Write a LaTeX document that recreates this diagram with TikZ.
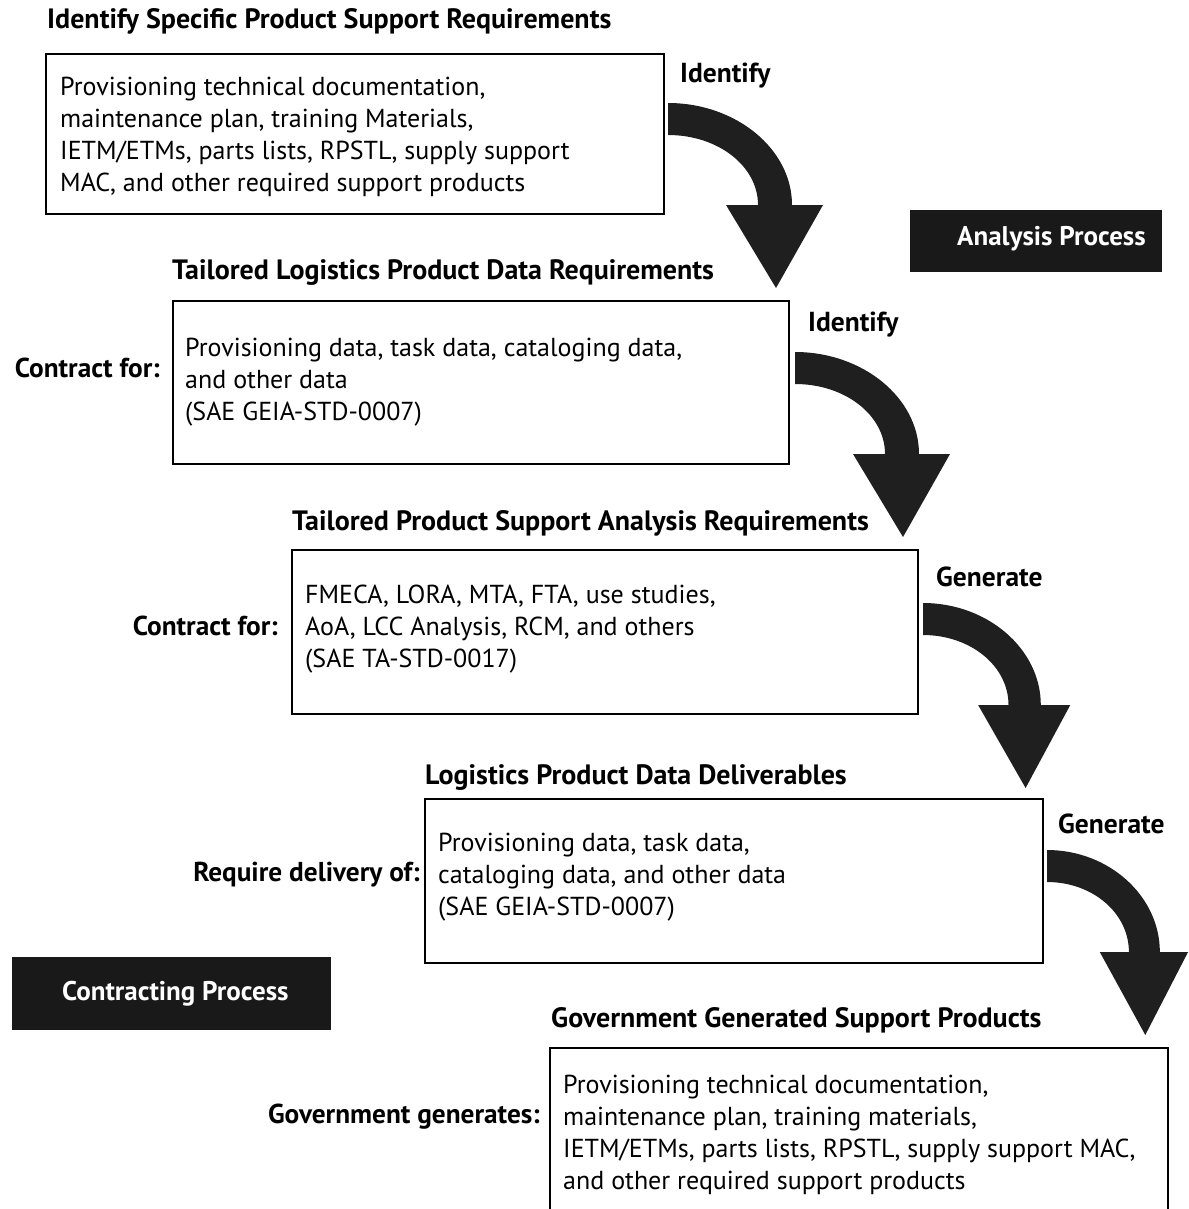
\documentclass[tikz,border=0pt]{standalone}
\usepackage{fontspec}
\setmainfont{PT Sans}
\begin{document}
\begin{tikzpicture}[x=1pt,y=-1pt,
  panel/.style={draw, line width=1.6pt, anchor=north west, inner sep=0pt},
  body/.style={anchor=west, align=left, inner sep=0pt, font=\fontsize{26}{32}\selectfont},
  heading/.style={anchor=west, inner sep=0pt, font=\fontsize{28}{32}\selectfont\bfseries},
  sidelabel/.style={anchor=east, inner sep=0pt, font=\fontsize{27.3}{32}\selectfont\bfseries},
  tagbox/.style={fill=black!90, draw=none, anchor=north west, inner sep=0pt},
  tagtext/.style={anchor=west, inner sep=0pt, text=white, font=\fontsize{27}{32}\selectfont\bfseries},
  pics/bend arrow/.style={code={
    \fill[black!88] (0,0) .. controls (68,0) and (124,46) .. (124,102)
      -- (155,102) -- (108,185) -- (58,102) -- (90,102)
      .. controls (90,63) and (50,32) .. (0,32) -- cycle;}}
]
\clip (0,0) rectangle (1188,1209);

% step 1
\node[heading] (h1) at (47,21) {Identify Specific Product Support Requirements};
\node[panel, minimum width=618pt, minimum height=160pt] (b1) at (45,53) {};
\node[body] (t1) at (60,137) {Provisioning technical documentation,\\maintenance plan, training Materials,\\IETM/ETMs, parts lists, RPSTL, supply support\\MAC, and other required support products};
\node[heading, font=\fontsize{27.5}{32}\selectfont\bfseries] (l1) at (680,76) {Identify};
\pic at (668,103) {bend arrow};

% analysis tag
\node[tagbox, minimum width=252pt, minimum height=62pt] (ap) at (910,210) {};
\node[tagtext] (apt) at (957,239) {Analysis Process};

% step 2
\node[heading] (h2) at (172,273) {Tailored Logistics Product Data Requirements};
\node[panel, minimum width=616pt, minimum height=163pt] (b2) at (172,300) {};
\node[sidelabel] (s2) at (160,368) {Contract for:};
\node[body] (t2) at (185,382) {Provisioning data, task data, cataloging data,\\and other data\\(SAE GEIA-STD-0007)};
\node[heading, font=\fontsize{27.5}{32}\selectfont\bfseries] (l2) at (808,325) {Identify};
\pic at (795,352) {bend arrow};

% step 3
\node[heading] (h3) at (292,523) {Tailored Product Support Analysis Requirements};
\node[panel, minimum width=626pt, minimum height=164pt] (b3) at (291,549) {};
\node[sidelabel] (s3) at (278,626) {Contract for:};
\node[body] (t3) at (305,629) {FMECA, LORA, MTA, FTA, use studies,\\AoA, LCC Analysis, RCM, and others\\(SAE TA-STD-0017)};
\node[heading, font=\fontsize{27.5}{32}\selectfont\bfseries] (l3) at (936,577) {Generate};
\pic[xscale=0.95] at (923,603) {bend arrow};

% step 4
\node[heading] (h4) at (425,778) {Logistics Product Data Deliverables};
\node[panel, minimum width=618pt, minimum height=164pt] (b4) at (424,798) {};
\node[sidelabel] (s4) at (420,875) {Require delivery of:};
\node[body] (t4) at (438,877) {Provisioning data, task data,\\cataloging data, and other data\\(SAE GEIA-STD-0007)};
\node[heading, font=\fontsize{27.5}{32}\selectfont\bfseries] (l4) at (1058,824) {Generate};
\pic[xscale=0.91] at (1047,850) {bend arrow};

% contracting tag
\node[tagbox, minimum width=319pt, minimum height=73pt] (cp) at (12,957) {};
\node[tagtext] (cpt) at (62,994) {Contracting Process};

% step 5
\node[heading] (h5) at (551,1020) {Government Generated Support Products};
\node[panel, minimum width=618pt, minimum height=200pt] (b5) at (549,1047) {};
\node[sidelabel] (s5) at (540,1117) {Government generates:};
\node[body] (t5) at (563,1135) {Provisioning technical documentation,\\maintenance plan, training materials,\\IETM/ETMs, parts lists, RPSTL, supply support MAC,\\and other required support products};
\end{tikzpicture}
\end{document}
